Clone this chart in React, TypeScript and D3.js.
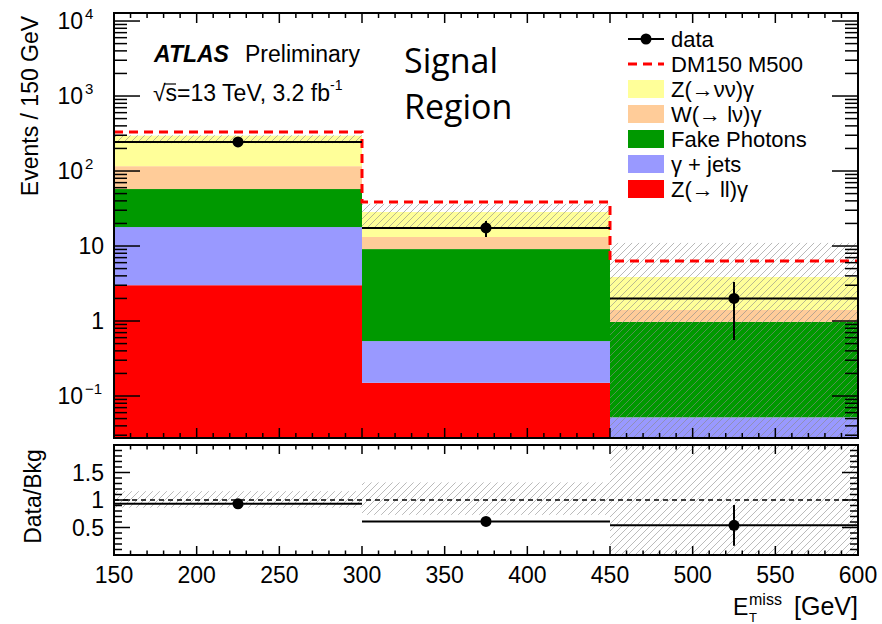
import * as d3 from 'd3';

const binEdges = [150, 300, 450, 600];
const binCenters = [225, 375, 525];

// background stack, listed bottom to top
const zllGamma = [3.0, 0.15, 0];
const gammaJets = [14.9, 0.39, 0.052];
const fakePhotons = [39.6, 8.56, 0.92];
const wlnGamma = [58.5, 4.1, 0.43];
const znnGamma = [180, 15.2, 2.46];

// DM150 M500 signal, drawn on top of the total background
const signal = [35, 10.2, 2.44];

const dataValues = [244, 17.4, 2];
const dataErrUp = [16, 4.2, 1.3];
const dataErrDown = [16, 4.2, 1.44];

const bandLow = [235, 17.5, 0.01];
const bandHigh = [300, 36.5, 11];

const ratioValues = [0.93, 0.61, 0.54];
const ratioErrUp = [0.05, 0.08, 0.37];
const ratioErrDown = [0.05, 0.08, 0.37];
const ratioBandLow = [0.86, 0.73, 0];
const ratioBandHigh = [1.16, 1.32, 2.5];

const xTicks = [150, 200, 250, 300, 350, 400, 450, 500, 550, 600];
const yMainTicks = [0.1, 1, 10, 100, 1000, 10000];
const yMainBase = ['10', '1', '10', '10', '10', '10'];
const yMainExp = ['−1', '', '', '2', '3', '4'];
const yRatioTicks = [0.5, 1, 1.5];
const yRatioLabels = ['0.5', '1', '1.5'];

const STACK = [
  { key: 'zll', label: 'Z(→ ll)γ', color: '#ff0000', values: zllGamma },
  { key: 'gjets', label: 'γ + jets', color: '#9999ff', values: gammaJets },
  { key: 'fake', label: 'Fake Photons', color: '#009900', values: fakePhotons },
  { key: 'wln', label: 'W(→ lν)γ', color: '#ffcc99', values: wlnGamma },
  { key: 'znn', label: 'Z(→νν)γ', color: '#ffff99', values: znnGamma },
];

const W = 882;
const H = 624;
const FONT = '"Liberation Sans", Arial, Helvetica, sans-serif';

export default function App() {
  const left = 114;
  const right = 858;
  const mainTop = 13;
  const mainBottom = 438;
  const ratioTop = 445;
  const ratioBottom = 555;

  const yMin = Math.pow(10, -1.56);
  const yMax = Math.pow(10, 4.107);

  const x = d3.scaleLinear().domain([150, 600]).range([left, right]);
  const y = d3.scaleLog().domain([yMin, yMax]).range([mainBottom, mainTop]).clamp(true);
  const yr = d3.scaleLinear().domain([0, 2]).range([ratioBottom, ratioTop]).clamp(true);

  const rows = binCenters.map((c, i) => {
    const r: Record<string, number> = { bin: i };
    STACK.forEach((s) => (r[s.key] = s.values[i]));
    return r;
  });
  const stacked = d3.stack<Record<string, number>>().keys(STACK.map((s) => s.key))(rows);
  const totals = rows.map((r) => d3.sum(STACK, (s) => r[s.key]));
  const withSignal = totals.map((t, i) => t + signal[i]);

  const sigPath = d3.path();
  withSignal.forEach((v, i) => {
    if (i === 0) sigPath.moveTo(x(binEdges[0]), y(v));
    else sigPath.lineTo(x(binEdges[i]), y(v));
    sigPath.lineTo(x(binEdges[i + 1]), y(v));
  });

  const clampV = (v: number) => Math.max(v, yMin);

  // tick positions
  const xMinor = d3.range(150, 601, 10).filter((v) => v % 50 !== 0);
  const logMinor: number[] = [];
  for (let e = -2; e <= 4; e++) {
    for (let k = 2; k <= 9; k++) {
      const v = k * Math.pow(10, e);
      if (v > yMin && v < yMax) logMinor.push(v);
    }
  }
  const ratioMinor = d3.range(0.1, 2.0, 0.1).filter((v) => Math.abs(v * 2 - Math.round(v * 2)) > 1e-6);

  const legendRows = [
    { kind: 'data', label: 'data' },
    { kind: 'signal', label: 'DM150 M500' },
    ...STACK.slice().reverse().map((s) => ({ kind: 'box', label: s.label, color: s.color })),
  ];

  return (
    <svg
      width={W}
      height={H}
      style={{ position: 'absolute', left: 0, top: 0, background: '#fff' }}
      fontFamily={FONT}
    >
      <defs>
        <clipPath id="mainClip">
          <rect x={left} y={mainTop} width={right - left} height={mainBottom - mainTop} />
        </clipPath>
        <clipPath id="ratioClip">
          <rect x={left} y={ratioTop} width={right - left} height={ratioBottom - ratioTop} />
        </clipPath>
        <pattern id="hatch" width={7} height={7} patternUnits="userSpaceOnUse">
          <path d="M0,7 L7,0 M-1,1 L1,-1 M6,8 L8,6" stroke="#8a8a8a" strokeWidth={1} opacity={0.6} />
        </pattern>
        <pattern id="hatchLight" width={7} height={7} patternUnits="userSpaceOnUse">
          <path d="M0,7 L7,0 M-1,1 L1,-1 M6,8 L8,6" stroke="#bbbbbb" strokeWidth={1} />
        </pattern>
      </defs>

      {/* main panel */}
      <g clipPath="url(#mainClip)">
        {stacked.map((layer, li) =>
          layer.map((d, i) => {
            const y0 = y(clampV(d[0]));
            const y1 = y(clampV(d[1]));
            return (
              <rect
                key={`${li}-${i}`}
                x={x(binEdges[i])}
                width={x(binEdges[i + 1]) - x(binEdges[i])}
                y={y1}
                height={Math.max(0, y0 - y1)}
                fill={STACK[li].color}
              />
            );
          })
        )}
        {bandLow.map((lo, i) => (
          <rect
            key={`band-${i}`}
            x={x(binEdges[i])}
            width={x(binEdges[i + 1]) - x(binEdges[i])}
            y={y(bandHigh[i])}
            height={y(clampV(lo)) - y(bandHigh[i])}
            fill="url(#hatch)"
          />
        ))}
        <path d={sigPath.toString()} fill="none" stroke="#ff0000" strokeWidth={3} strokeDasharray="9 6" />
        {dataValues.map((v, i) => (
          <g key={`data-${i}`} stroke="#000" strokeWidth={2}>
            <line x1={x(binEdges[i])} x2={x(binEdges[i + 1])} y1={y(v)} y2={y(v)} />
            <line x1={x(binCenters[i])} x2={x(binCenters[i])} y1={y(v + dataErrUp[i])} y2={y(v - dataErrDown[i])} />
            <circle cx={x(binCenters[i])} cy={y(v)} r={5.5} fill="#000" stroke="none" />
          </g>
        ))}
      </g>

      <g stroke="#000" strokeWidth={1.5}>
        {xTicks.map((t) => (
          <g key={`mx-${t}`}>
            <line x1={x(t)} x2={x(t)} y1={mainBottom} y2={mainBottom - 10} />
            <line x1={x(t)} x2={x(t)} y1={mainTop} y2={mainTop + 10} />
          </g>
        ))}
        {xMinor.map((t) => (
          <g key={`mxm-${t}`}>
            <line x1={x(t)} x2={x(t)} y1={mainBottom} y2={mainBottom - 5} />
            <line x1={x(t)} x2={x(t)} y1={mainTop} y2={mainTop + 5} />
          </g>
        ))}
        {yMainTicks.map((t) => (
          <g key={`my-${t}`}>
            <line x1={left} x2={left + 26} y1={y(t)} y2={y(t)} />
            <line x1={right} x2={right - 26} y1={y(t)} y2={y(t)} />
          </g>
        ))}
        {logMinor.map((t) => (
          <g key={`mym-${t}`}>
            <line x1={left} x2={left + 13} y1={y(t)} y2={y(t)} />
            <line x1={right} x2={right - 13} y1={y(t)} y2={y(t)} />
          </g>
        ))}
      </g>
      <rect x={left} y={mainTop} width={right - left} height={mainBottom - mainTop} fill="none" stroke="#000" strokeWidth={2} />

      {yMainTicks.map((t, i) =>
        yMainExp[i] ? (
          <g key={`myl-${t}`}>
            <text x={83} y={y(t) + 8} fontSize={23} textAnchor="end" fill="#000">
              {yMainBase[i]}
            </text>
            <text x={85} y={y(t) - 2} fontSize={15} fill="#000">
              {yMainExp[i]}
            </text>
          </g>
        ) : (
          <text key={`myl-${t}`} x={104} y={y(t) + 8} fontSize={23} textAnchor="end" fill="#000">
            {yMainBase[i]}
          </text>
        )
      )}

      <text
        transform={`translate(38,${(mainTop + 195) / 2 + 2}) rotate(-90)`}
        textAnchor="middle"
        fontSize={23}
        fill="#000"
      >
        Events / 150 GeV
      </text>

      {/* ratio panel */}
      <g clipPath="url(#ratioClip)">
        {ratioBandLow.map((lo, i) => (
          <rect
            key={`rband-${i}`}
            x={x(binEdges[i])}
            width={x(binEdges[i + 1]) - x(binEdges[i])}
            y={yr(ratioBandHigh[i])}
            height={yr(lo) - yr(ratioBandHigh[i])}
            fill="url(#hatchLight)"
          />
        ))}
        <line x1={left} x2={right} y1={yr(1)} y2={yr(1)} stroke="#000" strokeWidth={1.5} strokeDasharray="5 4" />
        {ratioValues.map((v, i) => (
          <g key={`ratio-${i}`} stroke="#000" strokeWidth={2}>
            <line x1={x(binEdges[i])} x2={x(binEdges[i + 1])} y1={yr(v)} y2={yr(v)} />
            <line x1={x(binCenters[i])} x2={x(binCenters[i])} y1={yr(v + ratioErrUp[i])} y2={yr(v - ratioErrDown[i])} />
            <circle cx={x(binCenters[i])} cy={yr(v)} r={5.5} fill="#000" stroke="none" />
          </g>
        ))}
      </g>

      <g stroke="#000" strokeWidth={1.5}>
        {xTicks.map((t) => (
          <g key={`rx-${t}`}>
            <line x1={x(t)} x2={x(t)} y1={ratioBottom} y2={ratioBottom - 9} />
            <line x1={x(t)} x2={x(t)} y1={ratioTop} y2={ratioTop + 9} />
          </g>
        ))}
        {xMinor.map((t) => (
          <g key={`rxm-${t}`}>
            <line x1={x(t)} x2={x(t)} y1={ratioBottom} y2={ratioBottom - 4.5} />
            <line x1={x(t)} x2={x(t)} y1={ratioTop} y2={ratioTop + 4.5} />
          </g>
        ))}
        {yRatioTicks.map((t) => (
          <g key={`ry-${t}`}>
            <line x1={left} x2={left + 16} y1={yr(t)} y2={yr(t)} />
            <line x1={right} x2={right - 16} y1={yr(t)} y2={yr(t)} />
          </g>
        ))}
        {ratioMinor.map((t) => (
          <g key={`rym-${t.toFixed(1)}`}>
            <line x1={left} x2={left + 8} y1={yr(t)} y2={yr(t)} />
            <line x1={right} x2={right - 8} y1={yr(t)} y2={yr(t)} />
          </g>
        ))}
      </g>
      <rect x={left} y={ratioTop} width={right - left} height={ratioBottom - ratioTop} fill="none" stroke="#000" strokeWidth={2} />

      {yRatioTicks.map((t, i) => (
        <text key={`ryl-${t}`} x={104} y={yr(t) + 8} fontSize={23} textAnchor="end" fill="#000">
          {yRatioLabels[i]}
        </text>
      ))}
      {xTicks.map((t) => (
        <text key={`rxl-${t}`} x={x(t)} y={583} fontSize={23} textAnchor="middle" fill="#000">
          {t}
        </text>
      ))}
      <text
        transform={`translate(41,${(ratioTop + 548) / 2}) rotate(-90)`}
        textAnchor="middle"
        fontSize={23}
        fill="#000"
      >
        Data/Bkg
      </text>

      {/* x axis title */}
      <text x={733} y={615} fontSize={23} fill="#000">E</text>
      <text x={749} y={605} fontSize={16} fill="#000">miss</text>
      <text x={749} y={622} fontSize={13} fill="#000">T</text>
      <text x={858} y={615} fontSize={25} textAnchor="end" fill="#000">[GeV]</text>

      {/* labels */}
      <text x={154} y={62} fontSize={23} fontWeight="bold" fontStyle="italic" fill="#000">ATLAS</text>
      <text x={245} y={62} fontSize={23} fill="#000">Preliminary</text>
      <text x={153} y={101} fontSize={23} fill="#000">
        √s=13 TeV, 3.2 fb<tspan fontSize={14} dy={-11}>-1</tspan>
      </text>
      <line x1={164} x2={176} y1={84} y2={84} stroke="#000" strokeWidth={1.2} />

      <text x={404} y={73} fontSize={34} fontFamily='"Open Sans", sans-serif' fill="#000">Signal</text>
      <text x={404} y={119} fontSize={34} fontFamily='"Open Sans", sans-serif' fill="#000">Region</text>

      {/* legend */}
      {legendRows.map((r, i) => {
        const cy = 39 + 25 * i;
        return (
          <g key={`leg-${i}`}>
            {r.kind === 'data' && (
              <g>
                <line x1={628} x2={664} y1={cy} y2={cy} stroke="#000" strokeWidth={2} />
                <circle cx={646} cy={cy} r={5.5} fill="#000" />
              </g>
            )}
            {r.kind === 'signal' && (
              <line x1={628} x2={664} y1={cy} y2={cy} stroke="#ff0000" strokeWidth={3} strokeDasharray="9 6" />
            )}
            {r.kind === 'box' && <rect x={628} y={cy - 9} width={36} height={18} fill={(r as any).color} />}
            <text x={671} y={cy + 8} fontSize={22} fill="#000">
              {r.label}
            </text>
          </g>
        );
      })}
    </svg>
  );
}
